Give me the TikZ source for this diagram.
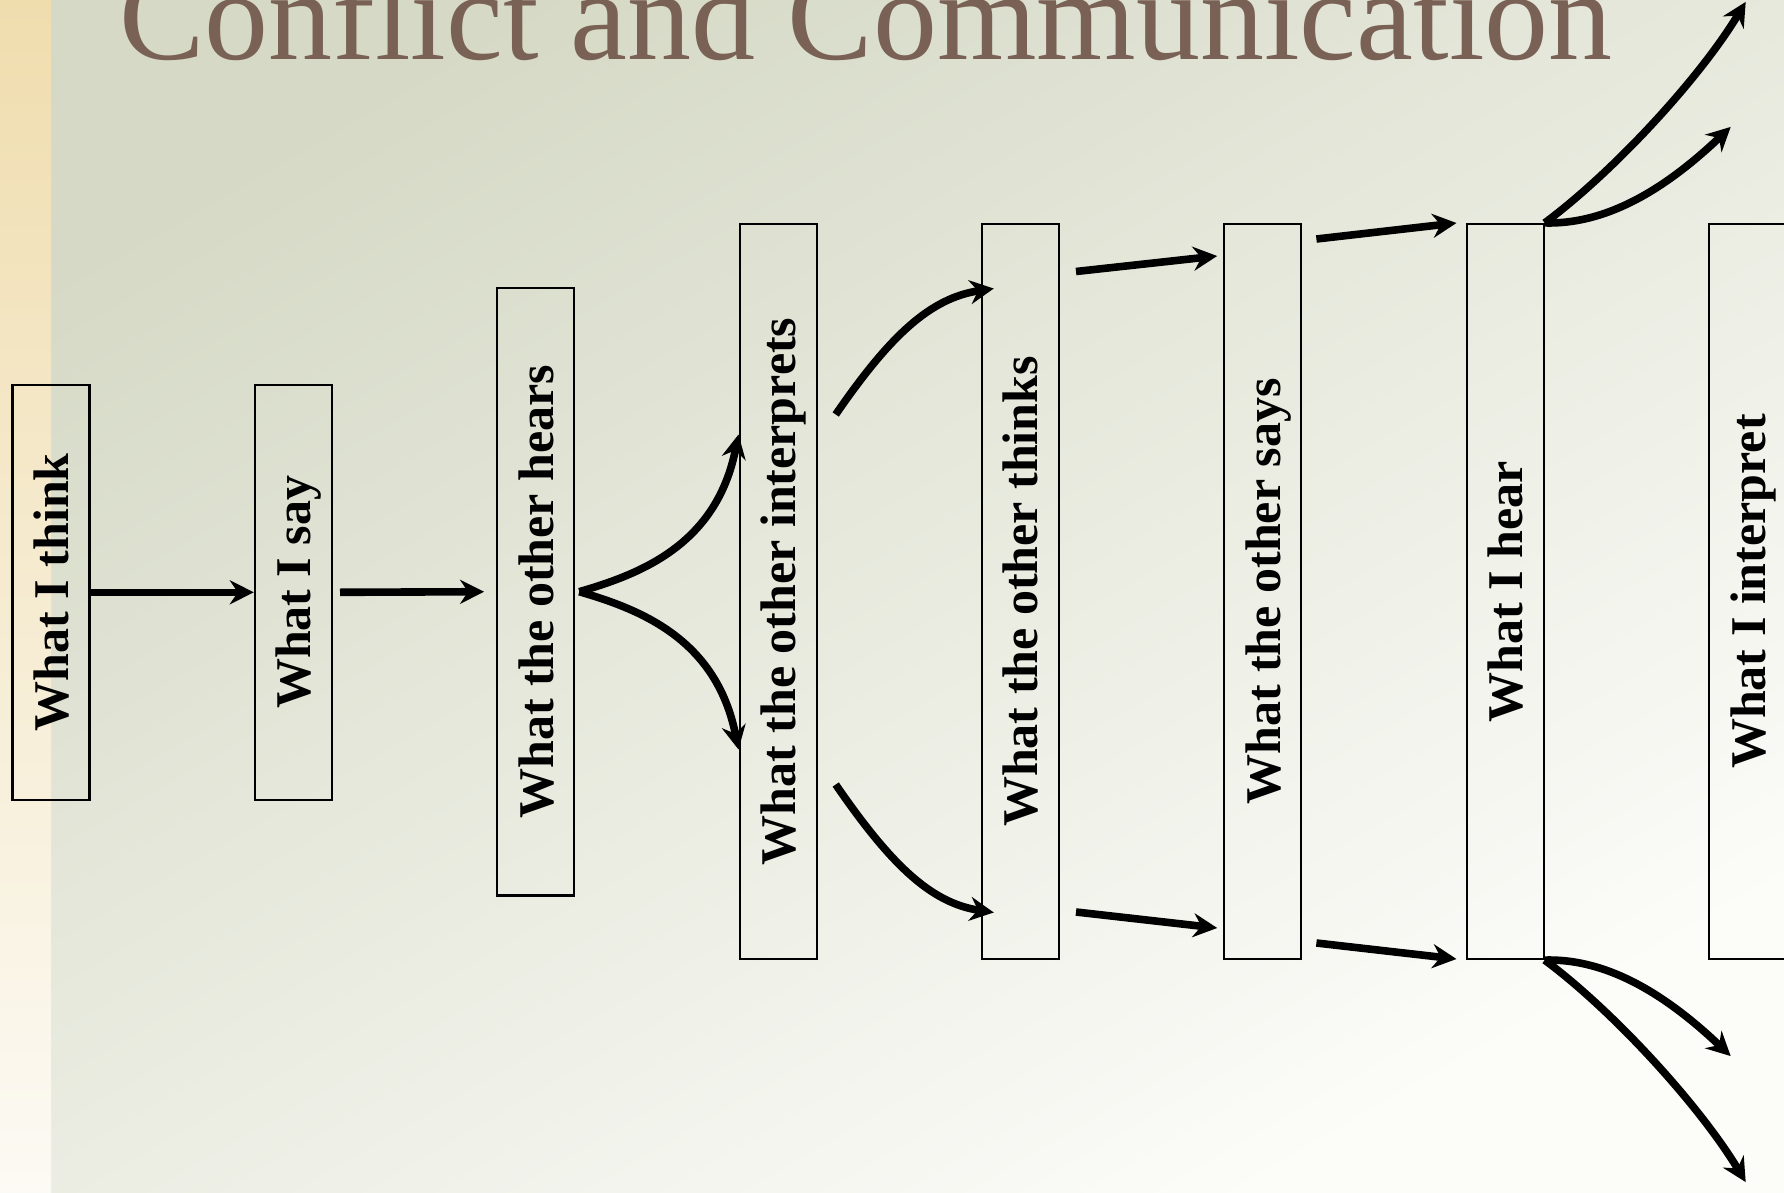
\documentclass[tikz,border=0pt]{standalone}
\usepackage{fontspec}
\setmainfont{Liberation Serif}
\usetikzlibrary{arrows.meta,calc}
\definecolor{titlebrown}{RGB}{122,97,86}
\definecolor{bgA}{RGB}{213,217,197}
\definecolor{bgM}{RGB}{236,237,229}
\definecolor{bgB}{RGB}{252,252,249}
\definecolor{stripA}{RGB}{240,221,174}
\definecolor{stripB}{RGB}{252,250,244}
\begin{document}
\begin{tikzpicture}[x=0.5pt,y=-0.5pt,
  stagebox/.style={draw=black, line width=1.1pt, rectangle, inner sep=0pt, minimum width=38.5pt},
  stagetext/.style={rotate=90, inner sep=0pt, font=\fontsize{25pt}{25pt}\selectfont\bfseries, text height=17.5pt, text depth=0pt},
  flow/.style={line width=3.8pt, -{Stealth[length=12pt,width=12pt,inset=4pt]}}]
\useasboundingbox (0,0) rectangle (1784,1193);
\clip (0,0) rectangle (1784,1193);
\shade[top color=bgA, middle color=bgM, bottom color=bgB, shading angle=30] (0,0) rectangle (1784,1193);
\shade[top color=stripA, bottom color=stripB] (0,0) rectangle (51,1193);

\node[anchor=base west, inner sep=0pt, text=titlebrown, font=\fontsize{64pt}{64pt}\selectfont] (title) at (119,60) {Conflict and Communication};

\node[stagebox, minimum height=207.7pt] (b1) at (51,592.3) {};
\node[stagebox, minimum height=207.7pt] (b2) at (293.4,592.3) {};
\node[stagebox, minimum height=303.8pt] (b3) at (535.7,591.7) {};
\node[stagebox, minimum height=367.5pt] (b4) at (778.1,591.5) {};
\node[stagebox, minimum height=367.5pt] (b5) at (1020.4,591.5) {};
\node[stagebox, minimum height=367.5pt] (b6) at (1262.8,591.5) {};
\node[stagebox, minimum height=367.5pt] (b7) at (1505.1,591.5) {};
\node[stagebox, minimum height=367.5pt] (b8) at (1747.5,591.5) {};

\node[stagetext] (t1) at (b1.center) {What I think};
\node[stagetext] (t2) at (b2.center) {What I say};
\node[stagetext] (t3) at (b3.center) {What the other hears};
\node[stagetext] (t4) at (b4.center) {What the other interprets};
\node[stagetext] (t5) at (b5.center) {What the other thinks};
\node[stagetext] (t6) at (b6.center) {What the other says};
\node[stagetext] (t7) at (b7.center) {What I hear};
\node[stagetext] (t8) at (b8.center) {What I interpret};

\draw[flow] (b1.east) -- (b2.west);
\draw[flow] ($(b2.east)+(7,0)$) -- ($(b3.west)+(-12,0)$);

\draw[flow] ($(b3.east)+(4,0)$) .. controls +(62,-18) and +(-22,110) .. ($(b4.west)+(0,-157)$);
\draw[flow] ($(b3.east)+(4,0)$) .. controls +(62,18) and +(-22,-110) .. ($(b4.west)+(0,158)$);

\draw[flow] ($(b4.east)+(18,-177)$) .. controls +(55,-80) and +(-63,9.5) .. ($(b5.west)+(13,-303)$);
\draw[flow] ($(b4.east)+(18,193)$) .. controls +(55,80) and +(-63,-9.5) .. ($(b5.west)+(13,321)$);

\draw[flow] ($(b5.east)+(16,-320)$) -- ($(b6.west)+(-6,-335.5)$);
\draw[flow] ($(b5.east)+(16,320.5)$) -- ($(b6.west)+(-6,336.5)$);

\draw[flow] ($(b6.east)+(14,-352.5)$) -- ($(b7.west)+(-9,-368.5)$);
\draw[flow] ($(b6.east)+(14,351.5)$) -- ($(b7.west)+(-9,367.5)$);

\draw[flow] (b7.north east) .. controls +(70,-52) and +(-45,75) .. ($(b7.north east)+(201,-221)$);
\draw[flow] (b7.north east) .. controls +(66,2) and +(-60,57) .. ($(b7.north east)+(186,-96)$);
\draw[flow] (b7.south east) .. controls +(66,-2) and +(-60,-57) .. ($(b7.south east)+(186,96)$);
\draw[flow] (b7.south east) .. controls +(70,52) and +(-45,-75) .. ($(b7.south east)+(201,222)$);
\end{tikzpicture}
\end{document}
